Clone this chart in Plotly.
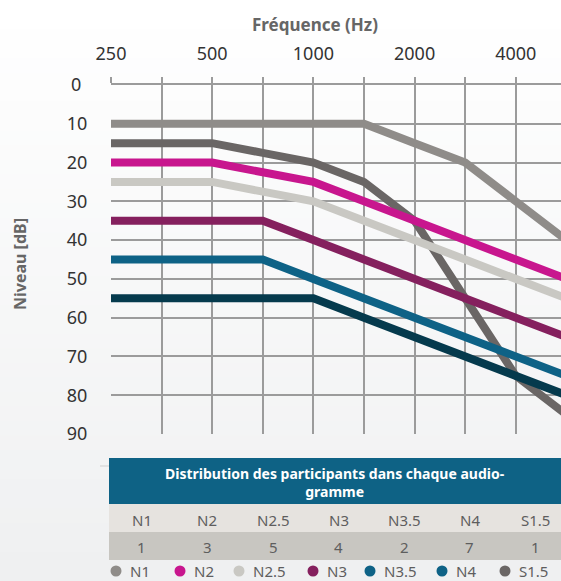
import plotly.graph_objects as go

# ---------------- data ----------------
freqs = ['250', '375', '500', '750', '1000', '1500', '2000', '3000', '4000', '6000']
labeled_freqs = ['250', '500', '1000', '2000', '4000']
levels = [0, 10, 20, 30, 40, 50, 60, 70, 80, 90]

names = ['N1', 'N2', 'N2.5', 'N3', 'N3.5', 'N4', 'S1.5']
n1 = [10, 10, 10, 10, 10, 10, 15, 20, 30, 40]
n2 = [20, 20, 20, 22.5, 25, 30, 35, 40, 45, 50]
n25 = [25, 25, 25, 27.5, 30, 35, 40, 45, 50, 55]
n3 = [35, 35, 35, 35, 40, 45, 50, 55, 60, 65]
n35 = [45, 45, 45, 45, 50, 55, 60, 65, 70, 75]
n4 = [55, 55, 55, 55, 55, 60, 65, 70, 75, 80]
s15 = [15, 15, 15, 17.5, 20, 25, 35, 55, 75, 85]
series = [n1, n2, n25, n3, n35, n4, s15]
participants = [1, 3, 5, 4, 2, 7, 1]

line_colors = ['#8f8c89', '#c8168e', '#c9c8c3', '#85205e', '#0e6286', '#053a4d', '#6a6665']
legend_colors = ['#8f8c89', '#c8168e', '#c9c8c3', '#85205e', '#0e6286', '#0e6286', '#6a6665']

table_title = 'Distribution des participants dans chaque audio-<br>gramme'

# ---------------- layout geometry ----------------
W, H = 561, 581
L, R, T, B = 111, 561, 85, 434
STEP = 50.6
FONT = 'Noto Sans'


def xp(px):
    return (px - L) / (R - L)


def yp(py):
    return (B - py) / (B - T)


xpos = list(range(len(freqs)))

fig = go.Figure()

# draw S1.5 first (underneath), then the others
order = [6, 0, 1, 2, 3, 4, 5]
for i in order:
    fig.add_trace(go.Scatter(
        x=xpos, y=series[i], mode='lines', name=names[i],
        line=dict(color=line_colors[i], width=8),
        showlegend=False, hoverinfo='x+y+name'))

shapes = []
# subtle vertical background gradient
nb = 40
c0 = (255, 255, 255)
c1 = (239, 240, 241)
for k in range(nb):
    t = k / (nb - 1)
    col = tuple(round(c0[j] + (c1[j] - c0[j]) * t) for j in range(3))
    y0 = H * k / nb
    y1 = H * (k + 1) / nb + 1
    shapes.append(dict(type='rect', xref='paper', yref='paper', layer='below',
                       x0=xp(0), x1=xp(W), y0=yp(y1), y1=yp(y0),
                       line=dict(width=0), fillcolor='rgb(%d,%d,%d)' % col))

# separator line and table rows
shapes.append(dict(type='line', xref='paper', yref='paper',
                   x0=xp(100), x1=xp(W), y0=yp(466), y1=yp(466),
                   line=dict(color='#cfcfcf', width=1)))
tab_x0, col_w = 109, 65.6
tab_x1 = tab_x0 + col_w * len(names)
shapes.append(dict(type='rect', xref='paper', yref='paper',
                   x0=xp(tab_x0), x1=xp(tab_x1), y0=yp(504), y1=yp(458),
                   line=dict(width=0), fillcolor='#0e6285'))
shapes.append(dict(type='rect', xref='paper', yref='paper',
                   x0=xp(tab_x0), x1=xp(tab_x1), y0=yp(532), y1=yp(504),
                   line=dict(width=0), fillcolor='#e6e3df'))
shapes.append(dict(type='rect', xref='paper', yref='paper',
                   x0=xp(tab_x0), x1=xp(tab_x1), y0=yp(560), y1=yp(532),
                   line=dict(width=0), fillcolor='#c8c6c1'))


def ann(text, px, py, size, color, **kw):
    d = dict(text=text, xref='paper', yref='paper', x=xp(px), y=yp(py),
             showarrow=False, xanchor='center', yanchor='middle',
             font=dict(family=FONT, size=size, color=color))
    d.update(kw)
    return d


annotations = [
    ann('<b>Fréquence (Hz)</b>', 314.5, 25, 17, '#666666'),
    ann('<b>Niveau [dB]</b>', 20, 264, 16, '#666666', textangle=-90),
    ann('<b>' + table_title + '</b>', 335, 482, 14, '#ffffff'),
]

legend_px = [116, 180, 239, 313, 370, 442, 505]
for i, nm in enumerate(names):
    cx = tab_x0 + col_w * (i + 0.5)
    annotations.append(ann(nm, cx, 520, 15, '#5e5e5e'))
    annotations.append(ann(str(participants[i]), cx, 547, 15, '#5e5e5e'))
    lx = legend_px[i]
    shapes.append(dict(type='circle', xref='paper', yref='paper',
                       xsizemode='pixel', ysizemode='pixel',
                       xanchor=xp(lx), yanchor=yp(571),
                       x0=-5.5, x1=5.5, y0=-5.5, y1=5.5,
                       line=dict(width=0), fillcolor=legend_colors[i]))
    annotations.append(ann(nm, lx + 12, 570.5, 15, '#5e5e5e', xanchor='left'))

grid_col = '#9b9b9b'
fig.update_layout(
    width=W, height=H,
    margin=dict(l=L, r=W - R, t=T, b=H - B, pad=0),
    paper_bgcolor='#ffffff', plot_bgcolor='rgba(0,0,0,0)',
    showlegend=False,
    shapes=shapes, annotations=annotations,
    xaxis=dict(side='top', range=[0, (R - L) / STEP], tickmode='array',
               tickvals=xpos,
               ticktext=[f if f in labeled_freqs else '' for f in freqs],
               showgrid=True, gridcolor=grid_col, gridwidth=1.5,
               zeroline=False, showline=True, linecolor=grid_col, linewidth=1.5,
               ticks='outside', ticklen=6, tickwidth=1.5, tickcolor=grid_col,
               ticklabelstandoff=10,
               tickfont=dict(family=FONT, size=18, color='#333333')),
    yaxis=dict(range=[90, 0], tickmode='array', tickvals=levels,
               ticktext=[str(v) + ('\u2009\u2009' if v < 10 else '') for v in levels],
               showgrid=True, gridcolor=grid_col, gridwidth=1.5,
               zeroline=False, showline=False,
               ticks='outside', ticklen=19, tickcolor='rgba(0,0,0,0)',
               tickfont=dict(family=FONT, size=18, color='#333333')),
)

fig.write_html('out.html', config={'displayModeBar': False},
               post_script="document.body.style.margin='0px';")
